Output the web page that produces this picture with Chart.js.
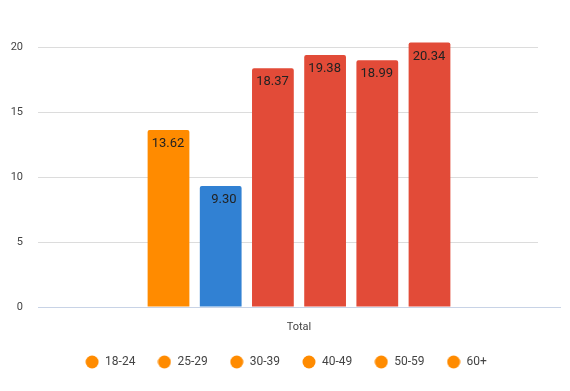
<!DOCTYPE html>
<html>
<head>
<meta charset="utf-8">
<script src="https://cdn.jsdelivr.net/npm/chart.js@4"></script>
<style>
  html, body { margin: 0; padding: 0; background: #fff; }
  #wrap { width: 570px; height: 391px; }
</style>
</head>
<body>
<div id="wrap"><canvas id="ageChart"></canvas></div>
<script>
// data
const categories = ['Total'];
const ageGroups = ['18-24', '25-29', '30-39', '40-49', '50-59', '60+'];
const values = [13.62, 9.30, 18.37, 19.38, 18.99, 20.34];
const barColors = ['#ff8b00', '#3181d3', '#e24b38', '#e24b38', '#e24b38', '#e24b38'];
const yTicks = [0, 5, 10, 15, 20];

const legendColor = '#ff8b00';

// small round marker for the legend (all orange in the original)
const dot = document.createElement('canvas');
dot.width = 14;
dot.height = 14;
const dctx = dot.getContext('2d');
dctx.fillStyle = legendColor;
dctx.beginPath();
dctx.arc(7, 7, 6.5, 0, Math.PI * 2);
dctx.fill();

// empty slot on both sides of the group
const datasets = [{ label: '', data: [null], backgroundColor: 'transparent' }];
ageGroups.forEach(function(g, i) {
    datasets.push({
        label: g,
        data: [values[i]],
        backgroundColor: barColors[i],
        borderRadius: 2,
        borderSkipped: 'bottom'
    });
});
datasets.push({ label: '', data: [null], backgroundColor: 'transparent' });

// value text inside the top of each bar, right aligned
const barLabels = {
    id: 'barLabels',
    afterDatasetsDraw(chart) {
        const ctx = chart.ctx;
        ctx.save();
        ctx.font = '13px Roboto';
        ctx.fillStyle = '#222';
        ctx.textAlign = 'right';
        ctx.textBaseline = 'middle';
        chart.data.datasets.forEach(function(ds, i) {
            if (ds.data[0] == null) return;
            const bar = chart.getDatasetMeta(i).data[0];
            ctx.fillText(ds.data[0].toFixed(2), bar.x + bar.width / 2 - 5, bar.y + 14);
        });
        ctx.restore();
    }
};

// grid lines stop a bit before the right edge
const gridCut = {
    id: 'gridCut',
    beforeDatasetsDraw(chart) {
        const a = chart.chartArea;
        const ctx = chart.ctx;
        ctx.save();
        ctx.fillStyle = '#fff';
        ctx.fillRect(538, a.top - 2, a.right - 538 + 2, a.bottom - a.top + 1);
        ctx.restore();
    }
};

// legend sits a little right of centre
const legendShift = {
    id: 'legendShift',
    afterLayout(chart) {
        chart.legend.left += 6;
        chart.legend.right += 6;
    }
};

new Chart(document.getElementById('ageChart'), {
    type: 'bar',
    data: { labels: categories, datasets: datasets },
    plugins: [gridCut, barLabels, legendShift],
    options: {
        responsive: true,
        maintainAspectRatio: false,
        animation: false,
        barPercentage: 0.8,
        categoryPercentage: 0.8,
        layout: { padding: { left: 0, right: 10, top: 34, bottom: 13 } },
        plugins: {
            tooltip: { enabled: false },
            legend: {
                position: 'bottom',
                labels: {
                    usePointStyle: true,
                    pointStyleWidth: 14,
                    boxHeight: 12,
                    padding: 22,
                    color: '#444',
                    font: { family: 'Roboto', size: 12 },
                    generateLabels(chart) {
                        return chart.data.datasets.map(function(ds, i) {
                            return {
                                text: ds.label,
                                fillStyle: legendColor,
                                strokeStyle: legendColor,
                                lineWidth: 0,
                                pointStyle: dot,
                                fontColor: '#444',
                                datasetIndex: i
                            };
                        }).filter(function(item) { return item.text !== ''; });
                    }
                }
            }
        },
        scales: {
            x: {
                grid: { display: false, drawTicks: false },
                border: { color: '#c8d3e6', width: 1 },
                ticks: { color: '#444', font: { family: 'Roboto', size: 11 }, padding: 14 },
                afterFit(scale) { scale.height = 27; }
            },
            y: {
                min: 0,
                max: 21,
                afterBuildTicks(scale) {
                    scale.ticks = yTicks.map(function(v) { return { value: v }; });
                },
                afterFit(scale) { scale.width = 38; },
                grid: { color: '#dcdcdc', drawTicks: false },
                border: { display: false },
                ticks: { color: '#444', font: { family: 'Roboto', size: 11 }, padding: 15 }
            }
        }
    }
});
</script>
</body>
</html>
